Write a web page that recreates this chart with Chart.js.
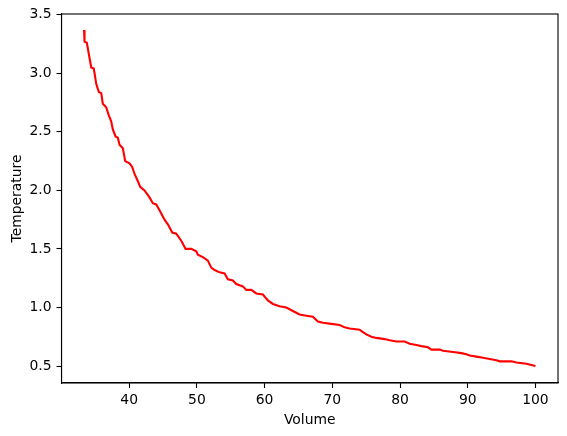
<!DOCTYPE html>
<html>
<head>
<meta charset="utf-8">
<script src="https://cdn.jsdelivr.net/npm/chart.js@4.4.1/dist/chart.umd.min.js"></script>
<style>
  html, body { margin: 0; padding: 0; background: #fff; }
  canvas { display: block; }
</style>
</head>
<body>
<canvas id="chart" width="567" height="436"></canvas>
<script>
// values
const volume = [
    33.33, 33.4, 33.74, 34.14, 34.39, 34.77, 35.13, 35.51, 35.87, 36.1,
    36.6, 36.99, 37.34, 37.58, 37.98, 38.32, 38.57, 39.06, 39.41, 40.05,
    40.44, 40.79, 41.27, 41.63, 42.26, 43.0, 43.49, 43.99, 44.48, 45.22,
    45.71, 46.36, 46.95, 47.69, 48.33, 49.17, 49.9, 50.14, 50.88, 51.62,
    52.12, 52.61, 53.35, 54.09, 54.57, 55.31, 55.81, 56.79, 57.29, 58.03,
    58.77, 59.75, 60.48, 61.22, 62.21, 63.2, 64.18, 65.17, 66.16, 67.13,
    67.87, 68.61, 69.85, 71.08, 71.82, 72.56, 74.03, 74.52, 75.03, 75.76,
    76.5, 77.73, 78.47, 79.46, 80.69, 81.42, 82.41, 83.15, 84.13, 84.63,
    85.86, 86.35, 87.82, 89.06, 89.8, 90.29, 91.28, 92.26, 93.25, 94.24,
    94.72, 96.45, 97.19, 98.67, 100
];
const temperature = [
    3.37, 3.27, 3.26, 3.13, 3.05, 3.04, 2.91, 2.84, 2.83, 2.74,
    2.71, 2.64, 2.59, 2.52, 2.46, 2.45, 2.39, 2.36, 2.25, 2.23,
    2.20, 2.14, 2.08, 2.03, 2.00, 1.94, 1.89, 1.88, 1.83, 1.75,
    1.71, 1.64, 1.63, 1.57, 1.50, 1.50, 1.48, 1.45, 1.43, 1.40,
    1.34, 1.32, 1.30, 1.29, 1.24, 1.23, 1.20, 1.18, 1.15, 1.15,
    1.12, 1.11, 1.06, 1.03, 1.01, 1.00, 0.97, 0.94, 0.93, 0.92,
    0.88, 0.87, 0.86, 0.85, 0.83, 0.82, 0.81, 0.79, 0.77, 0.75,
    0.74, 0.73, 0.72, 0.71, 0.71, 0.69, 0.68, 0.67, 0.66, 0.64,
    0.64, 0.63, 0.62, 0.61, 0.60, 0.59, 0.58, 0.57, 0.56, 0.55,
    0.54, 0.54, 0.53, 0.52, 0.50
];
const xTicks = [40, 50, 60, 70, 80, 90, 100];
const yTicks = [0.5, 1.0, 1.5, 2.0, 2.5, 3.0, 3.5];

const font = { family: 'DejaVu Sans', size: 13.9 };

// full box around the plot, like matplotlib spines
const frame = {
    id: 'frame',
    afterDraw(chart) {
        const { ctx, chartArea: a } = chart;
        ctx.save();
        ctx.strokeStyle = '#000';
        ctx.lineWidth = 1.1;
        ctx.strokeRect(a.left, a.top, a.right - a.left, a.bottom - a.top);
        ctx.restore();
    }
};

new Chart(document.getElementById('chart'), {
    type: 'line',
    data: {
        datasets: [{
            data: volume.map((v, i) => ({ x: v, y: temperature[i] })),
            borderColor: 'red',
            borderWidth: 2.1,
            pointRadius: 0,
            tension: 0,
            fill: false
        }]
    },
    options: {
        responsive: false,
        devicePixelRatio: 1,
        animation: false,
        layout: { padding: { top: 14, right: 9, left: 0, bottom: 0 } },
        plugins: { legend: { display: false }, tooltip: { enabled: false } },
        scales: {
            x: {
                type: 'linear',
                min: 30,
                max: 103.33,
                afterBuildTicks: s => { s.ticks = xTicks.map(v => ({ value: v })); },
                afterFit: s => { s.height = 53; },
                grid: { drawOnChartArea: false, tickLength: 5, color: '#000', tickWidth: 1.1 },
                border: { color: '#000', width: 1.1 },
                ticks: { color: '#000', font, padding: 4, maxRotation: 0, autoSkip: false },
                title: { display: true, text: 'Volume', color: '#000', font, padding: { top: 0, bottom: 7.6 } }
            },
            y: {
                min: 0.355,
                max: 3.506,
                afterBuildTicks: s => { s.ticks = yTicks.map(v => ({ value: v })); },
                afterFit: s => { s.width = 61.5; },
                grid: { drawOnChartArea: false, tickLength: 5, color: '#000', tickWidth: 1.1 },
                border: { color: '#000', width: 1.1 },
                ticks: { color: '#000', font, padding: 5, autoSkip: false, callback: v => v.toFixed(1) },
                title: { display: true, text: 'Temperature', color: '#000', font, padding: { top: 8.6, bottom: 0 } }
            }
        }
    },
    plugins: [frame]
});
</script>
</body>
</html>
